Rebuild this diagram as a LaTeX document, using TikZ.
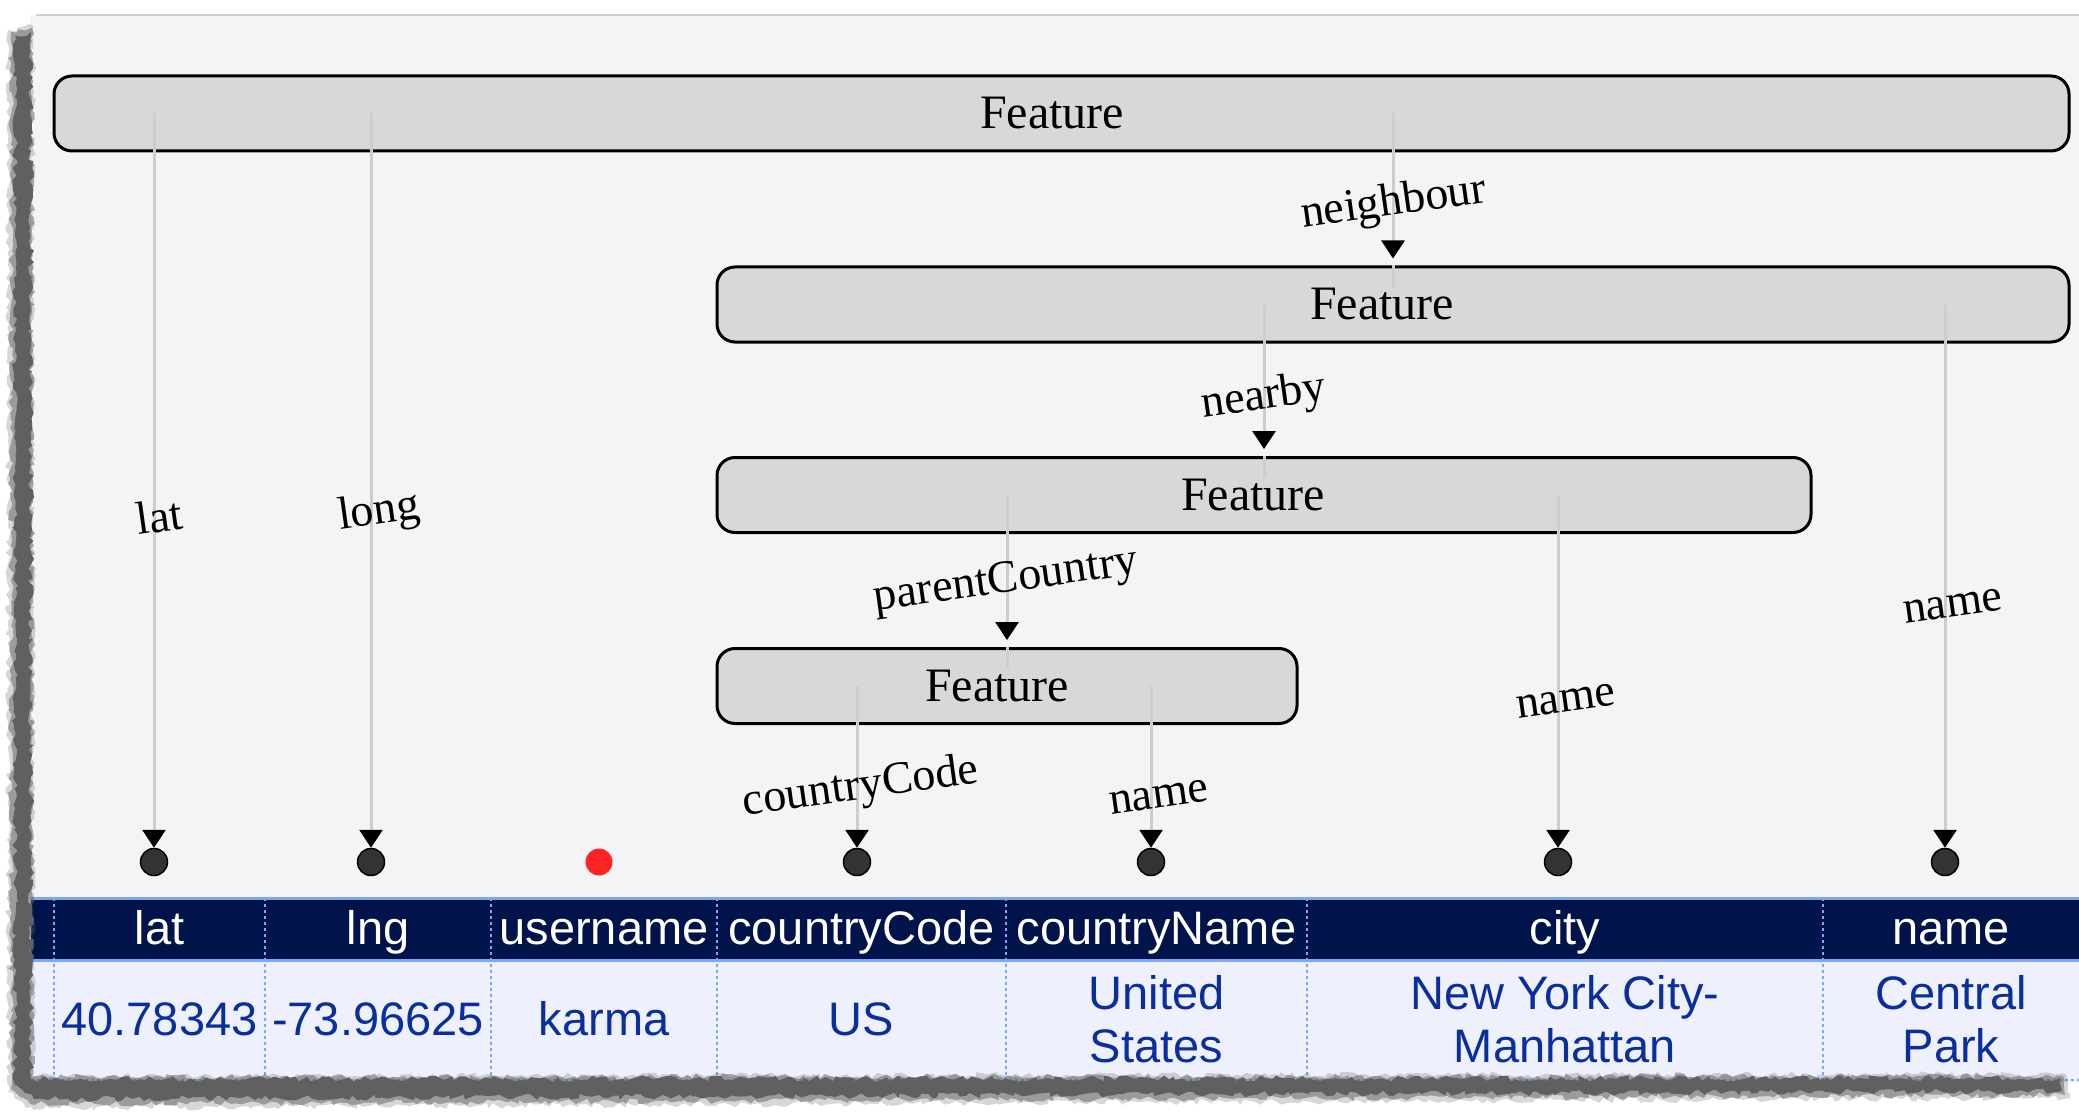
\documentclass[tikz,border=0pt]{standalone}
\usepackage{fontspec}
\setmainfont{Liberation Serif}
\setsansfont{Liberation Sans}
\usetikzlibrary{arrows.meta,decorations.pathmorphing}
\definecolor{paper}{HTML}{F4F4F4}
\definecolor{boxgray}{HTML}{D8D8D8}
\definecolor{conngray}{HTML}{CDCDCD}
\definecolor{navy}{HTML}{00134B}
\definecolor{rowblue}{HTML}{EEF1FD}
\definecolor{sepblue}{HTML}{7FA5F5}
\definecolor{datablue}{HTML}{0A2E9C}
\definecolor{dotgray}{HTML}{333333}
\definecolor{shadowgray}{HTML}{606060}
\definecolor{reddot}{HTML}{FF2424}
\definecolor{topline}{HTML}{CFCFCF}
\begin{document}
\begin{tikzpicture}[x=1pt,y=-1pt,
 featbox/.style={draw=black, line width=3pt, fill=boxgray, rounded corners=18pt, inner sep=0pt, minimum height=75pt},
 feattext/.style={font=\fontsize{48}{56}\selectfont, fill=boxgray, inner sep=1pt},
 rel/.style={font=\fontsize{46}{54}\selectfont, rotate=8, inner sep=0pt},
 grayline/.style={draw=conngray, line width=3pt},
 conn/.style={grayline, -{Triangle[width=23pt,length=18pt,color=black]}},
 enddot/.style={circle, draw=black, line width=1.5pt, fill=dotgray, minimum size=27pt, inner sep=0pt},
 hdr/.style={font=\sffamily\fontsize{47}{54}\selectfont, text=white, anchor=base, inner sep=0pt},
 cell/.style={font=\sffamily\fontsize{47}{53}\selectfont, text=datablue, align=center, inner sep=0pt},
 sepline/.style={draw=sepblue, line width=2.5pt, dash pattern=on 3pt off 3pt},
 shadow/.style={fill=shadowgray, decorate, decoration={random steps, segment length=5pt, amplitude=3pt}}
]
\useasboundingbox (0,0) rectangle (2079,1115);
\fill[white] (0,0) rectangle (2079,1115);
% paper
\fill[paper] (30,15) rectangle (2079,1082);
\draw[topline, line width=2pt] (36,15) -- (2079,15);
% table
\fill[navy] (31,898) rectangle (2079,960);
\fill[rowblue] (31,960) rectangle (2079,1082);
\draw[sepblue, line width=3pt] (31,898) -- (2079,898);
\draw[sepblue, line width=3pt] (31,960) -- (2079,960);
\draw[sepline] (31,1080) -- (2079,1080);
\foreach \x in {54,265,491,717,1006,1307,1823}
  \draw[sepline] (\x,898) -- (\x,1082);
\node[hdr] (h0) at (159.5,944) {lat};
\node[hdr] (h1) at (378,944) {lng};
\node[hdr] (h2) at (604,944) {username};
\node[hdr] (h3) at (861.5,944) {countryCode};
\node[hdr] (h4) at (1156.5,944) {countryName};
\node[hdr] (h5) at (1565,944) {city};
\node[hdr] (h6) at (1951,944) {name};
\node[cell] (v0) at (159.5,1019) {40.78343};
\node[cell] (v1) at (378,1019) {-73.96625};
\node[cell] (v2) at (604,1019) {karma};
\node[cell] (v3) at (861.5,1019) {US};
\node[cell] (v4) at (1156.5,1019) {United\\States};
\node[cell] (v5) at (1565,1019) {New York City-\\Manhattan};
\node[cell] (v6) at (1951,1019) {Central\\Park};
% torn edge shadows (soft layers)
\pgfmathsetseed{4711}
\fill[shadow, opacity=0.25] (8,30) -- (33,26) -- (33,1076) -- (2066,1074) -- (2070,1098) -- (26,1108) -- (8,1092) -- cycle;
\fill[shadow, opacity=0.5] (11,32) -- (32,28) -- (32,1077) -- (2063,1076) -- (2066,1095) -- (30,1104) -- (11,1089) -- cycle;
\fill[shadow] (15,36) -- (31,32) -- (31,1079) -- (2060,1078) -- (2062,1091) -- (34,1099) -- (15,1085) -- cycle;
% feature boxes
\node[featbox, minimum width=2015pt] (f1) at (1061.5,113.5) {};
\node[featbox, minimum width=1352pt] (f2) at (1393,304.5) {};
\node[featbox, minimum width=1094pt] (f3) at (1264,495) {};
\node[featbox, minimum width=580pt] (f4) at (1007,686) {};
% end dots
\node[enddot] (d1) at (154,862) {};
\node[enddot] (d2) at (371,862) {};
\node[circle, fill=reddot, minimum size=27pt, inner sep=0pt] (d3) at (599,862) {};
\node[enddot] (d4) at (857,862) {};
\node[enddot] (d5) at (1151,862) {};
\node[enddot] (d6) at (1558,862) {};
\node[enddot] (d7) at (1945,862) {};
% connectors between features
\draw[grayline] (f2.north) -- (f2.center);
\draw[grayline] (f3.north) -- (f3.center);
\draw[grayline] (f4.north) -- (f4.center);
\draw[conn, shorten >=7pt] (f2.north |- f1.center) -- (f2.north);
\draw[conn, shorten >=7pt] (f3.north |- f2.center) -- (f3.north);
\draw[conn, shorten >=7pt] (f4.north |- f3.center) -- (f4.north);
% connectors to table columns
\draw[conn] (d1 |- f1.center) -- (d1.north);
\draw[conn] (d2 |- f1.center) -- (d2.north);
\draw[conn] (d4 |- f4.center) -- (d4.north);
\draw[conn] (d5 |- f4.center) -- (d5.north);
\draw[conn] (d6 |- f3.center) -- (d6.north);
\draw[conn] (d7 |- f2.center) -- (d7.north);
% feature texts
\node[feattext] (f1t) at (1052,113.5) {Feature};
\node[feattext] (f2t) at (1382,304.5) {Feature};
\node[feattext] (f3t) at (1253,495) {Feature};
\node[feattext] (f4t) at (997,686) {Feature};
% relation labels
\node[rel] (l1) at (1394,204) {neighbour};
\node[rel] (l2) at (1264,398) {nearby};
\node[rel] (l3) at (1006,582) {parentCountry};
\node[rel] (l4) at (159,516) {lat};
\node[rel] (l5) at (379,513) {long};
\node[rel] (l6) at (861,788) {countryCode};
\node[rel] (l7) at (1159,797) {name};
\node[rel] (l8) at (1566,701) {name};
\node[rel] (l9) at (1953,606) {name};
\end{tikzpicture}
\end{document}
